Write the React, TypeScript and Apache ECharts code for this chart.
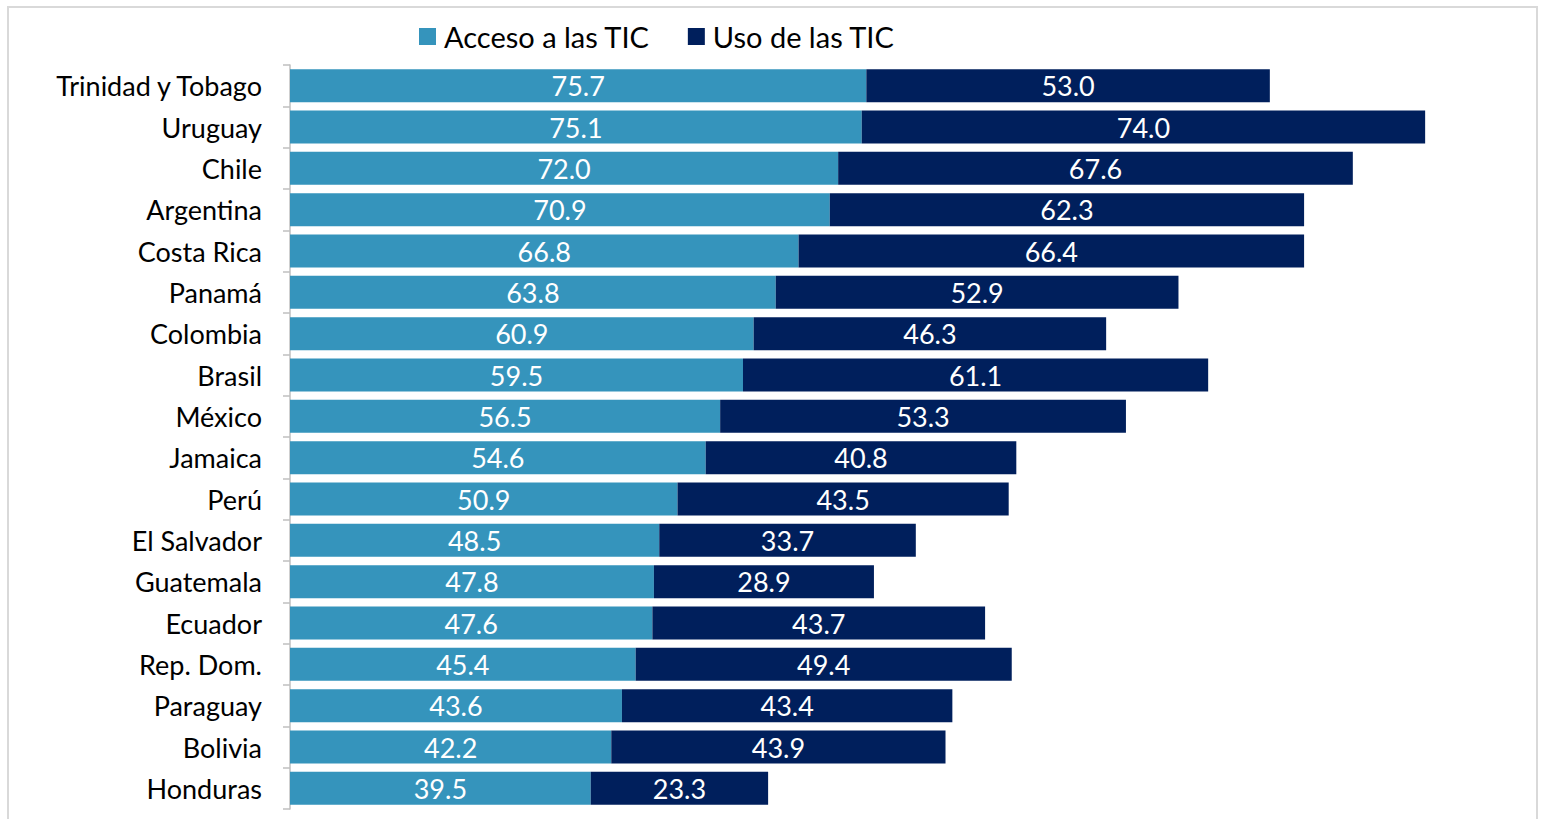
import React, { useEffect, useRef } from "react";
import * as echarts from "echarts";

const categories = [
  "Trinidad y Tobago", "Uruguay", "Chile", "Argentina", "Costa Rica", "Panamá",
  "Colombia", "Brasil", "México", "Jamaica", "Perú", "El Salvador", "Guatemala",
  "Ecuador", "Rep. Dom.", "Paraguay", "Bolivia", "Honduras",
];
const acceso = [75.7, 75.1, 72.0, 70.9, 66.8, 63.8, 60.9, 59.5, 56.5, 54.6, 50.9, 48.5, 47.8, 47.6, 45.4, 43.6, 42.2, 39.5];
const uso = [53.0, 74.0, 67.6, 62.3, 66.4, 52.9, 46.3, 61.1, 53.3, 40.8, 43.5, 33.7, 28.9, 43.7, 49.4, 43.4, 43.9, 23.3];

const FONT = "Lato, 'Noto Sans', sans-serif";

export default function App() {
  const ref = useRef<HTMLDivElement>(null);
  useEffect(() => {
    if (!ref.current) return;
    const chart = echarts.init(ref.current, undefined, { renderer: "svg" });
    const label = {
      show: true,
      position: "inside",
      color: "#ffffff",
      fontSize: 27,
      fontFamily: FONT,
      formatter: (p: any) => Number(p.value).toFixed(1),
    };
    chart.setOption({
      animation: false,
      backgroundColor: "#ffffff",
      graphic: [
        {
          type: "rect",
          shape: { x: 8, y: 7, width: 1529, height: 830 },
          style: { fill: "none", stroke: "#d9d9d9", lineWidth: 2 },
          silent: true,
        },
      ],
      legend: {
        top: 17,
        left: 414,
        itemWidth: 17,
        itemHeight: 17,
        itemGap: 38,
        icon: "rect",
        textStyle: { fontSize: 29, fontFamily: FONT, color: "#000000", padding: [0, 0, 0, 3] },
        data: ["Acceso a las TIC", "Uso de las TIC"],
      },
      grid: { left: 290, right: 109, top: 65, bottom: 10, containLabel: false },
      xAxis: {
        type: "value",
        min: 0,
        max: 150,
        show: false,
      },
      yAxis: {
        type: "category",
        data: categories,
        inverse: true,
        axisLine: { show: true, lineStyle: { color: "#bfbfbf", width: 1.5 } },
        axisTick: { show: true, length: 7, interval: 0, lineStyle: { color: "#bfbfbf", width: 1.5 } },
        axisLabel: { fontSize: 27, fontFamily: FONT, color: "#000000", margin: 28, interval: 0, padding: [0, 0, 4, 0] },
      },
      series: [
        {
          name: "Acceso a las TIC",
          type: "bar",
          stack: "total",
          data: acceso,
          barWidth: "80%",
          itemStyle: { color: "#3594bc" },
          label,
        },
        {
          name: "Uso de las TIC",
          type: "bar",
          stack: "total",
          data: uso,
          barWidth: "80%",
          itemStyle: { color: "#001f5c" },
          label,
        },
      ],
    });
    return () => chart.dispose();
  }, []);
  return (
    <div
      ref={ref}
      style={{ position: "absolute", left: 0, top: 0, width: 1541, height: 819 }}
    />
  );
}
